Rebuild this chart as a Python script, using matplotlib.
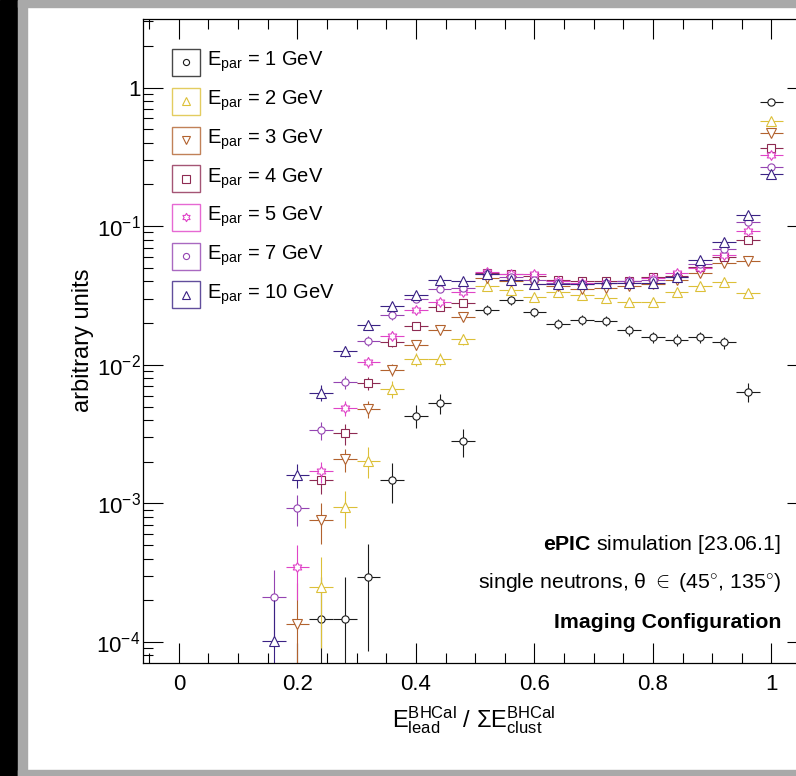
import numpy as np
import matplotlib
matplotlib.use("Agg")
import matplotlib.pyplot as plt
from matplotlib.path import Path
from matplotlib.patches import Rectangle
from matplotlib.ticker import FixedLocator, FuncFormatter

plt.rcParams["font.family"] = ["Liberation Sans", "DejaVu Sans"]
plt.rcParams["mathtext.fontset"] = "custom"
plt.rcParams["mathtext.rm"] = "Liberation Sans"
plt.rcParams["mathtext.it"] = "Liberation Sans:italic"
plt.rcParams["mathtext.bf"] = "Liberation Sans:bold"

# bin centres (bin width 0.04)
x_1 = [0.24, 0.28, 0.32, 0.36, 0.40, 0.44, 0.48, 0.52, 0.56, 0.60, 0.64, 0.68,
       0.72, 0.76, 0.80, 0.84, 0.88, 0.92, 0.96, 1.00]
y_1 = [1.47e-4, 1.47e-4, 2.96e-4, 1.48e-3, 4.3e-3, 5.3e-3, 2.8e-3, 0.0249, 0.0291, 0.0239,
       0.0198, 0.0212, 0.0208, 0.0177, 0.0158, 0.0152, 0.0158, 0.0145, 0.0064, 0.783]
e_1 = [1.47e-4, 1.47e-4, 2.1e-4, 4.7e-4, 7.9e-4, 8.8e-4, 6.4e-4, 1.9e-3, 2.1e-3, 1.9e-3,
       1.7e-3, 1.8e-3, 1.75e-3, 1.6e-3, 1.5e-3, 1.5e-3, 1.5e-3, 1.46e-3, 9.7e-4, 0.0107]

x_2 = [0.24, 0.28, 0.32, 0.36, 0.40, 0.44, 0.48, 0.52, 0.56, 0.60, 0.64, 0.68,
       0.72, 0.76, 0.80, 0.84, 0.88, 0.92, 0.96, 1.00]
y_2 = [2.51e-4, 9.4e-4, 2.03e-3, 6.7e-3, 0.011, 0.011, 0.0153, 0.0372, 0.0344, 0.0308,
       0.0333, 0.032, 0.0303, 0.0286, 0.0286, 0.0335, 0.0367, 0.0396, 0.033, 0.571]
e_2 = [1.6e-4, 2.8e-4, 5.1e-4, 9.3e-4, 1.2e-3, 1.2e-3, 1.4e-3, 2.2e-3, 2.1e-3, 2.0e-3,
       2.1e-3, 2.0e-3, 2.0e-3, 1.9e-3, 1.9e-3, 2.1e-3, 2.2e-3, 2.3e-3, 2.1e-3, 8.6e-3]

x_3 = [0.20, 0.24, 0.28, 0.32, 0.36, 0.40, 0.44, 0.48, 0.52, 0.56, 0.60, 0.64, 0.68,
       0.72, 0.76, 0.80, 0.84, 0.88, 0.92, 0.96, 1.00]
y_3 = [1.36e-4, 7.6e-4, 2.08e-3, 4.79e-3, 9.2e-3, 0.0139, 0.0177, 0.0221, 0.042, 0.040,
       0.038, 0.037, 0.035, 0.036, 0.037, 0.038, 0.041, 0.046, 0.054, 0.0557, 0.471]
e_3 = [1.3e-4, 2.5e-4, 4.0e-4, 6.5e-4, 9.0e-4, 1.1e-3, 1.3e-3, 1.5e-3, 2.0e-3, 2.0e-3,
       1.9e-3, 1.9e-3, 1.9e-3, 1.9e-3, 1.9e-3, 1.9e-3, 2.0e-3, 2.1e-3, 2.3e-3, 2.3e-3, 6.8e-3]

x_4 = [0.24, 0.28, 0.32, 0.36, 0.40, 0.44, 0.48, 0.52, 0.56, 0.60, 0.64, 0.68,
       0.72, 0.76, 0.80, 0.84, 0.88, 0.92, 0.96, 1.00]
y_4 = [1.48e-3, 3.21e-3, 7.38e-3, 0.0147, 0.0191, 0.0261, 0.0279, 0.046, 0.045, 0.044,
       0.041, 0.040, 0.040, 0.040, 0.043, 0.044, 0.051, 0.060, 0.080, 0.367]
e_4 = [3.2e-4, 5.5e-4, 8.5e-4, 1.2e-3, 1.4e-3, 1.6e-3, 1.7e-3, 2.1e-3, 2.1e-3, 2.1e-3,
       2.0e-3, 2.0e-3, 2.0e-3, 2.0e-3, 2.1e-3, 2.1e-3, 2.3e-3, 2.4e-3, 2.8e-3, 6.1e-3]

x_5 = [0.20, 0.24, 0.28, 0.32, 0.36, 0.40, 0.44, 0.48, 0.52, 0.56, 0.60, 0.64, 0.68,
       0.72, 0.76, 0.80, 0.84, 0.88, 0.92, 0.96, 1.00]
y_5 = [3.5e-4, 1.7e-3, 4.87e-3, 0.01045, 0.0162, 0.0247, 0.0286, 0.0333, 0.047, 0.045,
       0.045, 0.040, 0.039, 0.039, 0.040, 0.042, 0.046, 0.050, 0.062, 0.092, 0.328]
e_5 = [1.5e-4, 3.0e-4, 6.0e-4, 9.5e-4, 1.2e-3, 1.5e-3, 1.7e-3, 1.8e-3, 2.2e-3, 2.1e-3,
       2.1e-3, 2.0e-3, 2.0e-3, 2.0e-3, 2.0e-3, 2.0e-3, 2.1e-3, 2.2e-3, 2.5e-3, 3.0e-3, 5.7e-3]

x_7 = [0.16, 0.20, 0.24, 0.28, 0.32, 0.36, 0.40, 0.44, 0.48, 0.52, 0.56, 0.60, 0.64, 0.68,
       0.72, 0.76, 0.80, 0.84, 0.88, 0.92, 0.96, 1.00]
y_7 = [2.12e-4, 9.2e-4, 3.36e-3, 7.45e-3, 0.0149, 0.0227, 0.030, 0.0354, 0.0358, 0.045,
       0.043, 0.041, 0.039, 0.038, 0.039, 0.040, 0.041, 0.043, 0.053, 0.068, 0.107, 0.267]
e_7 = [1.2e-4, 2.3e-4, 5.0e-4, 8.0e-4, 1.2e-3, 1.5e-3, 1.7e-3, 1.9e-3, 1.9e-3, 2.1e-3,
       2.1e-3, 2.0e-3, 2.0e-3, 1.9e-3, 2.0e-3, 2.0e-3, 2.0e-3, 2.1e-3, 2.3e-3, 2.6e-3, 3.3e-3, 5.2e-3]

x_10 = [0.16, 0.20, 0.24, 0.28, 0.32, 0.36, 0.40, 0.44, 0.48, 0.52, 0.56, 0.60, 0.64, 0.68,
        0.72, 0.76, 0.80, 0.84, 0.88, 0.92, 0.96, 1.00]
y_10 = [1.02e-4, 1.61e-3, 6.3e-3, 0.01247, 0.0195, 0.0267, 0.0317, 0.0406, 0.040, 0.045,
        0.041, 0.038, 0.038, 0.038, 0.039, 0.039, 0.039, 0.043, 0.057, 0.077, 0.121, 0.239]
e_10 = [1.0e-4, 3.2e-4, 7.9e-4, 1.1e-3, 1.4e-3, 1.6e-3, 1.8e-3, 2.0e-3, 2.0e-3, 2.1e-3,
        2.0e-3, 1.9e-3, 1.9e-3, 1.9e-3, 2.0e-3, 2.0e-3, 2.0e-3, 2.1e-3, 2.4e-3, 2.8e-3, 3.5e-3, 4.9e-3]

energies = ["1", "2", "3", "4", "5", "7", "10"]
xs = [x_1, x_2, x_3, x_4, x_5, x_7, x_10]
ys = [y_1, y_2, y_3, y_4, y_5, y_7, y_10]
es = [e_1, e_2, e_3, e_4, e_5, e_7, e_10]

couleurs = ["#1a1a1a", "#dcc038", "#b2622e", "#8e2a52", "#e044c8", "#9444b2", "#3a2284"]

# etoile a 6 branches (marqueur ROOT ouvert)
ang = np.deg2rad(90 + 30 * np.arange(12))
rad = np.where(np.arange(12) % 2 == 0, 1.0, 0.58)
verts = list(zip(rad * np.cos(ang), rad * np.sin(ang)))
etoile = Path(verts + [verts[0]], [Path.MOVETO] + [Path.LINETO] * 11 + [Path.CLOSEPOLY])

marqueurs = ["o", "^", "v", "s", etoile, "o", "^"]
tailles = [5.2, 7, 7, 6.3, 7, 5.2, 7]

W, H = 796, 776
fig = plt.figure(figsize=(W / 100, H / 100), dpi=100)


def fx(px):
    return px / W


def fy(py):
    return 1 - py / H


# cadre de la capture
fig.patches.append(Rectangle((0, 0), fx(18), 1, transform=fig.transFigure, color="black", zorder=-5))
fig.patches.append(Rectangle((fx(18), 0), fx(9), 1, transform=fig.transFigure, color="#a9a9a9", zorder=-5))
fig.patches.append(Rectangle((fx(18), fy(7)), 1, 7 / H, transform=fig.transFigure, color="#a9a9a9", zorder=-5))
fig.patches.append(Rectangle((fx(18), 0), 1, 6 / H, transform=fig.transFigure, color="#a9a9a9", zorder=-5))

ax = fig.add_axes([fx(143.3), fy(663), fx(807) - fx(143.3), fy(19) - fy(663)])
ax.set_yscale("log")

for x, y, e, c, m, ms in zip(xs, ys, es, couleurs, marqueurs, tailles):
    y = np.array(y)
    e = np.array(e)
    bas = np.minimum(e, y * 0.999)
    ax.errorbar(x, y, yerr=[bas, e], xerr=0.02, fmt="none", ecolor=c, elinewidth=0.8, capsize=0)
    ax.plot(x, y, ls="none", marker=m, ms=ms, mfc="white", mec=c, mew=0.8)

ax.set_xlim(-0.06, 1.06)
ax.set_ylim(7.06e-5, 3.12)

ax.xaxis.set_major_locator(FixedLocator([0, 0.2, 0.4, 0.6, 0.8, 1.0]))
ax.xaxis.set_minor_locator(FixedLocator(np.arange(-0.05, 1.06, 0.05)))
ax.xaxis.set_major_formatter(FuncFormatter(lambda v, p: "0" if abs(v) < 1e-9 else ("1" if abs(v - 1) < 1e-9 else f"{v:.1f}")))

ax.yaxis.set_major_locator(FixedLocator([1e-4, 1e-3, 1e-2, 1e-1, 1]))
mineurs = [k * 10.0 ** d for d in range(-5, 1) for k in range(2, 10)]
ax.yaxis.set_minor_locator(FixedLocator(mineurs))


def fmt_y(v, p):
    if abs(v - 1) < 1e-9:
        return "1"
    return r"$\mathregular{10^{%d}}$" % int(round(np.log10(v)))


ax.yaxis.set_major_formatter(FuncFormatter(fmt_y))
ax.yaxis.set_minor_formatter(FuncFormatter(lambda v, p: ""))

ax.tick_params(which="both", direction="in", top=True, right=True, width=0.8, labelsize=16)
ax.tick_params(which="major", length=14.4)
ax.tick_params(which="minor", length=7.2)
ax.tick_params(axis="x", which="major", pad=8)
ax.tick_params(axis="y", which="major", pad=2)
for s in ax.spines.values():
    s.set_linewidth(0.9)

fig.text(fx(474), fy(720), r"$\mathregular{E^{BHCal}_{lead}}$ / $\mathregular{\Sigma E^{BHCal}_{clust}}$",
         ha="center", va="center", fontsize=17)
fig.text(fx(83), fy(340), "arbitrary units", rotation=90, ha="center", va="center", fontsize=17)

# legende a la ROOT
y_leg = [62, 101, 140, 178.5, 217, 256, 295]
for lab, c, m, ms, yl in zip(energies, couleurs, marqueurs, tailles, y_leg):
    fig.patches.append(Rectangle((fx(172), fy(yl + 13.5)), fx(28), 27 / H, transform=fig.transFigure,
                                 fill=False, ec=c, lw=1.0, alpha=0.8))
    fig.add_artist(plt.Line2D([fx(186)], [fy(yl)], transform=fig.transFigure, ls="none", marker=m,
                              ms=ms * 0.85, mfc="white", mec=c, mew=0.8))
    fig.text(fx(207), fy(yl), r"E$_{\mathregular{par}}$ = " + lab + " GeV", ha="left", va="center", fontsize=14.5)

fig.text(fx(781), fy(544), r"$\mathbf{ePIC}$ simulation [23.06.1]", ha="right", va="center", fontsize=15.3)
fig.text(fx(781), fy(583), r"single neutrons, θ $\in$ (45$^{\circ}$, 135$^{\circ}$)", ha="right", va="center", fontsize=15.3)
fig.text(fx(781), fy(622), "Imaging Configuration", ha="right", va="center", fontsize=15.3, fontweight="bold")

fig.savefig("out.png", dpi=100)
